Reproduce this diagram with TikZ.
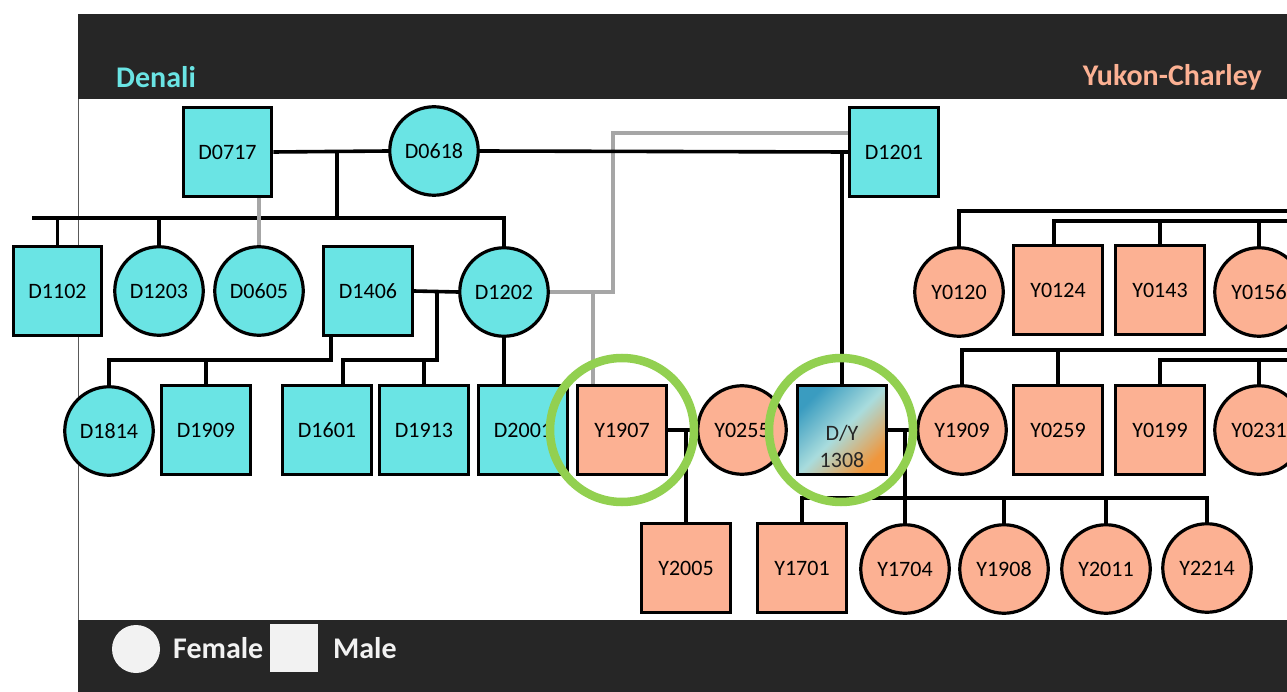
\documentclass[tikz,border=0pt]{standalone}
\usepackage{fontspec}
\setmainfont{Carlito}
\pgfdeclarelayer{background}
\pgfsetlayers{background,main}
\definecolor{dcyan}{HTML}{6AE4E4}
\definecolor{ysal}{HTML}{FCB193}
\definecolor{band}{HTML}{262626}
\definecolor{ltxt}{HTML}{F2F2F2}
\definecolor{ringc}{HTML}{92D050}
\definecolor{glinec}{HTML}{A6A6A6}
\definecolor{dyA}{HTML}{3A9CC0}
\definecolor{dyB}{HTML}{A9DCDD}
\definecolor{dyC}{HTML}{F0963C}
\begin{document}
\begin{tikzpicture}[x=1pt,y=-1pt,
  person/.style={draw=black, line width=3.2pt, minimum size=88.5pt, inner sep=0pt, font=\fontsize{22}{27}\selectfont, text=black},
  fem/.style={person, circle},
  mal/.style={person, rectangle},
  den/.style={fill=dcyan},
  yuk/.style={fill=ysal},
  kin/.style={draw=black, line width=3.6pt},
  gkin/.style={draw=glinec, line width=3.2pt},
  halo/.style={circle, draw=ringc, line width=8.5pt, minimum size=144pt, inner sep=0pt},
  headtxt/.style={font=\fontsize{30}{36}\selectfont\bfseries, inner sep=0pt},
]
\useasboundingbox (0,0) rectangle (1287,692);

% Denali
\node[mal,den] (D0717) at (227.5,152) {D0717};
\node[fem,den] (D0618) at (434,151) {D0618};
\node[mal,den] (D1201) at (894,152) {D1201};
\node[mal,den] (D1102) at (57.5,291) {D1102};
\node[fem,den] (D1203) at (159,291) {D1203};
\node[fem,den] (D0605) at (259,291) {D0605};
\node[mal,den] (D1406) at (368,291) {D1406};
\node[fem,den] (D1202) at (504,292) {D1202};
\node[fem,den] (D1814) at (109,431) {D1814};
\node[mal,den] (D1909) at (206,430) {D1909};
\node[mal,den] (D1601) at (327,430) {D1601};
\node[mal,den] (D1913) at (424,430) {D1913};
\node[mal,den] (D2001) at (523,430) {D2001};
% Yukon-Charley
\node[mal,yuk] (Y1907) at (622,430) {Y1907};
\node[fem,yuk] (Y0255) at (742,430) {Y0255};
\node[mal, draw=black, top color=dyA, bottom color=dyC, middle color=dyB, shading angle=45] (DY) at (842,430) {};
\node[font=\fontsize{22}{27}\selectfont, text=black!85, align=center, inner sep=0pt] (DYtxt) at (842,446) {D/Y\\1308};
\node[fem,yuk] (Y1909) at (962,430) {Y1909};
\node[mal,yuk] (Y0259) at (1058,430) {Y0259};
\node[mal,yuk] (Y0199) at (1160,430) {Y0199};
\node[fem,yuk] (Y0231) at (1259,430) {Y0231};
\node[fem,yuk] (Y0120) at (959,292) {Y0120};
\node[mal,yuk] (Y0124) at (1058,290) {Y0124};
\node[mal,yuk] (Y0143) at (1160,290) {Y0143};
\node[fem,yuk] (Y0156) at (1259,292) {Y0156};
\node[mal,yuk] (Y2005) at (686,568) {Y2005};
\node[mal,yuk] (Y1701) at (802,568) {Y1701};
\node[fem,yuk] (Y1704) at (905,569) {Y1704};
\node[fem,yuk] (Y1908) at (1004,569) {Y1908};
\node[fem,yuk] (Y2011) at (1106,569) {Y2011};
\node[fem,yuk] (Y2214) at (1207,568) {Y2214};

% highlight rings
\node[halo] (ringA) at (Y1907.center) {};
\node[halo] (ringB) at (841,430) {};

% header / legend text
\node[headtxt, anchor=base west, text=dcyan] (hDen) at (116,88) {Denali};
\node[headtxt, anchor=base east, text=ysal] (hYuk) at (1262,86) {Yukon-Charley};
\node[circle, fill=ltxt, minimum size=48pt, inner sep=0pt] (legF) at (136,649) {};
\node[headtxt, anchor=base west, text=ltxt] (legFt) at (173,658) {Female};
\node[rectangle, fill=ltxt, minimum size=48pt, inner sep=0pt] (legM) at (294,648) {};
\node[headtxt, anchor=base west, text=ltxt] (legMt) at (333,658) {Male};

\begin{pgfonlayer}{background}
\fill[white] (0,0) rectangle (1287,692);
\fill[band] (78,14) rectangle (1287,99);
\fill[band] (78,620) rectangle (1287,692);
\draw[line width=1pt, draw=black!65] (78,99) -- (78,620);

% generation 1
\draw[kin] (D0717.east) -- (D0618.west);
\coordinate (u1) at (337,152);
\coordinate (sibL) at (32,218);
\draw[kin] (u1) -- (u1 |- sibL);
\draw[kin] (sibL) -| (D1202.north);
\draw[kin] (D1102.north) -- (D1102.north |- sibL);
\draw[kin] (D1203.north) -- (D1203.north |- sibL);
\draw[gkin] (D0605.north) -- (D0605.north |- D0717.south);

% D1406 / D1202
\draw[kin] (D1406.east) -- (D1202.west);
\coordinate (m2) at (437,292);
\coordinate (b2) at (0,360);
\coordinate (p1406) at ([xshift=-37pt]D1406.south);
\draw[kin] (p1406) -- (p1406 |- b2) -| (D1814.north);
\draw[kin] (D1909.north) -- (D1909.north |- b2);
\coordinate (c1601) at ([xshift=16pt]D1601.north);
\draw[kin] (m2) |- (c1601 |- b2) -- (c1601);
\draw[kin] (D1913.north) -- (D1913.north |- b2);
\draw[kin] (D1202.south) -- (D1202.south |- D2001.north);

% grey links
\coordinate (g1) at (613,292);
\coordinate (g2) at (613,133);
\coordinate (g3) at (593,292);
\draw[gkin] (D1202.east) -- (g1) -- (g2) -- (g2 -| D1201.west);
\draw[gkin] (g3) -- (g3 |- Y1907.north);

% D0618 / D1201
\draw[kin] (D0618.east) -- (D1201.west);
\draw[kin] (DY.north) -- (DY.north |- D0618.east);

% Y1907 / Y0255
\draw[kin] (Y1907.east) -- (Y0255.west);
\draw[kin] (Y2005.north) -- (Y2005.north |- Y1907.east);

% D/Y 1308 / Y1909
\draw[kin] (DY.east) -- (Y1909.west);
\coordinate (m4) at (905,430);
\coordinate (b4) at (0,498);
\draw[kin] (m4) -- (Y1704.north);
\draw[kin] (Y1701.north) -- (Y1701.north |- b4) -| (Y2214.north);
\draw[kin] (Y1908.north) -- (Y1908.north |- b4);
\draw[kin] (Y2011.north) -- (Y2011.north |- b4);

% right side sibling bars
\coordinate (rE1) at (1287,211);
\coordinate (rE2) at (1287,221);
\coordinate (rE3) at (1287,350);
\coordinate (rE4) at (1287,360);
\draw[kin] (Y0120.north) |- (rE1);
\draw[kin] ([xshift=-4pt]Y0124.north) |- (rE2);
\draw[kin] (Y0143.north) -- (Y0143.north |- rE2);
\draw[kin] (Y0156.north) -- (Y0156.north |- rE2);
\draw[kin] (Y1909.north) |- (rE3);
\draw[kin] (Y0259.north) -- (Y0259.north |- rE3);
\draw[kin] (Y0199.north) |- (rE4);
\draw[kin] (Y0231.north) -- (Y0231.north |- rE4);
\end{pgfonlayer}
\end{tikzpicture}
\end{document}
